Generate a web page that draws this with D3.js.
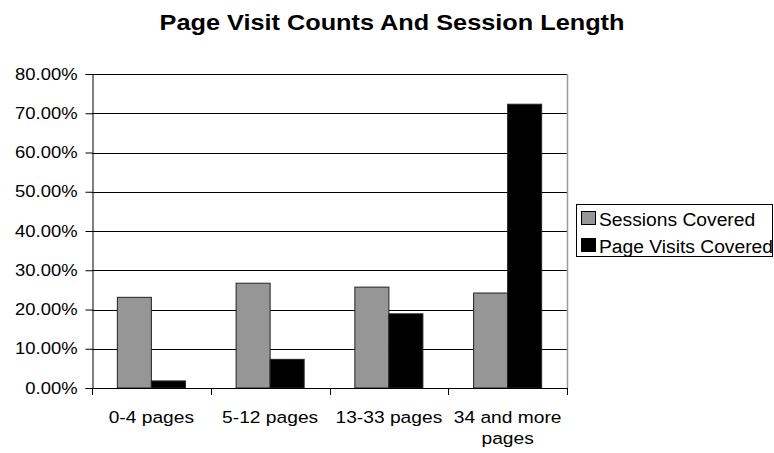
<!DOCTYPE html>
<html>
<head>
<meta charset="utf-8">
<script src="https://cdn.jsdelivr.net/npm/d3@7"></script>
<style>
  html, body { margin: 0; padding: 0; background: #fff; }
  svg { display: block; font-family: "Liberation Sans", Arial, sans-serif; }
</style>
</head>
<body>
<svg id="chart" width="774" height="453"></svg>
<script>
// Share of sessions and of page visits by session length bucket
const categories = ["0-4 pages", "5-12 pages", "13-33 pages", "34 and more pages"];
const seriesNames = ["Sessions Covered", "Page Visits Covered"];
const sessionsCovered = [0.231, 0.267, 0.257, 0.242];
const pageVisitsCovered = [0.018, 0.073, 0.189, 0.723];
const yTicks = [0, 0.1, 0.2, 0.3, 0.4, 0.5, 0.6, 0.7, 0.8];

const colors = ["#969696", "#000000"];
const series = [sessionsCovered, pageVisitsCovered];

const svg = d3.select("#chart");
const plot = { left: 92, right: 567, top: 74, bottom: 388 };
const textStretch = 1.15;

const x0 = d3.scaleBand()
  .domain(categories)
  .range([plot.left, plot.right])
  .paddingInner(0.427)
  .paddingOuter(0.2135);
const x1 = d3.scaleBand()
  .domain(seriesNames)
  .range([0, x0.bandwidth()]);
const y = d3.scaleLinear()
  .domain([0, 0.8])
  .range([plot.bottom, plot.top]);

// Title
svg.append("text")
  .attr("transform", `translate(392,30) scale(${textStretch},1)`)
  .attr("text-anchor", "middle")
  .attr("font-weight", "bold")
  .attr("font-size", 22)
  .text("Page Visit Counts And Session Length");

// Gridlines
svg.append("g")
  .selectAll("line")
  .data(yTicks.filter(d => d > 0))
  .join("line")
  .attr("x1", plot.left).attr("x2", plot.right)
  .attr("y1", d => Math.round(y(d)) + 0.5)
  .attr("y2", d => Math.round(y(d)) + 0.5)
  .attr("stroke", "#000")
  .attr("stroke-width", 1);

// Right border of the plot area
svg.append("line")
  .attr("x1", plot.right + 0.5).attr("x2", plot.right + 0.5)
  .attr("y1", plot.top).attr("y2", plot.bottom)
  .attr("stroke", "#9a9a9a")
  .attr("stroke-width", 1.5);

// Bars
const rows = categories.map((c, i) => ({ c, vals: series.map((s, k) => ({ name: seriesNames[k], v: s[i], k })) }));
svg.append("g")
  .selectAll("g")
  .data(rows)
  .join("g")
  .attr("transform", d => `translate(${x0(d.c)},0)`)
  .selectAll("rect")
  .data(d => d.vals)
  .join("rect")
  .attr("x", d => x1(d.name))
  .attr("width", x1.bandwidth())
  .attr("y", d => y(d.v))
  .attr("height", d => y(0) - y(d.v))
  .attr("fill", d => colors[d.k])
  .attr("stroke", "#222")
  .attr("stroke-width", 1);

// Y axis
const yAxis = d3.axisLeft(y)
  .tickValues(yTicks)
  .tickFormat(d3.format(".2%"))
  .tickSize(7)
  .tickPadding(8);
const gy = svg.append("g")
  .attr("transform", `translate(${plot.left + 0.5},0)`)
  .call(yAxis)
  .attr("font-family", null)
  .attr("font-size", null);
gy.select(".domain").attr("stroke", "#000");
gy.selectAll(".tick line").attr("stroke", "#000");
gy.selectAll(".tick text")
  .attr("font-size", 16)
  .attr("fill", "#000")
  .each(function () {
    const t = d3.select(this);
    const xx = +t.attr("x");
    t.attr("transform", `translate(${xx},0) scale(${textStretch},1)`).attr("x", 0);
  });

// X axis: baseline and ticks at category boundaries
const step = x0.step();
const half = (step - x0.bandwidth()) / 2;
const bounds = categories.map(c => x0(c) - half).concat([x0(categories[categories.length - 1]) + x0.bandwidth() + half]);
svg.append("line")
  .attr("x1", plot.left).attr("x2", plot.right + 1)
  .attr("y1", plot.bottom + 0.5).attr("y2", plot.bottom + 0.5)
  .attr("stroke", "#000");
svg.append("g")
  .selectAll("line")
  .data(bounds)
  .join("line")
  .attr("x1", d => Math.round(d) + 0.5).attr("x2", d => Math.round(d) + 0.5)
  .attr("y1", plot.bottom).attr("y2", plot.bottom + 7)
  .attr("stroke", "#000");

// Category labels, wrapped to fit the category width
const labelSize = 17;
const labels = svg.append("g");
categories.forEach(c => {
  const cx = x0(c) + x0.bandwidth() / 2;
  const words = c.split(" ");
  const lines = [];
  let cur = [];
  const probe = labels.append("text").attr("font-size", labelSize);
  words.forEach(w => {
    const trial = cur.concat([w]).join(" ");
    probe.text(trial);
    if (cur.length && probe.node().getComputedTextLength() * 1.13 > step - 4) {
      lines.push(cur.join(" "));
      cur = [w];
    } else {
      cur.push(w);
    }
  });
  lines.push(cur.join(" "));
  probe.remove();
  lines.forEach((ln, i) => {
    labels.append("text")
      .attr("transform", `translate(${cx},${423 + i * 21}) scale(1.13,1)`)
      .attr("text-anchor", "middle")
      .attr("font-size", labelSize)
      .text(ln);
  });
});

// Legend
const legend = svg.append("g");
legend.append("rect")
  .attr("x", 576.5).attr("y", 204.5)
  .attr("width", 196).attr("height", 52)
  .attr("fill", "#fff")
  .attr("stroke", "#000");
seriesNames.forEach((name, k) => {
  const top = 211 + k * 27;
  legend.append("rect")
    .attr("x", 581.5).attr("y", top + 0.5)
    .attr("width", 14).attr("height", 13)
    .attr("fill", colors[k])
    .attr("stroke", "#000");
  legend.append("text")
    .attr("transform", `translate(599,${top + 15}) scale(1.07,1)`)
    .attr("font-size", 18)
    .text(name);
});
</script>
</body>
</html>
